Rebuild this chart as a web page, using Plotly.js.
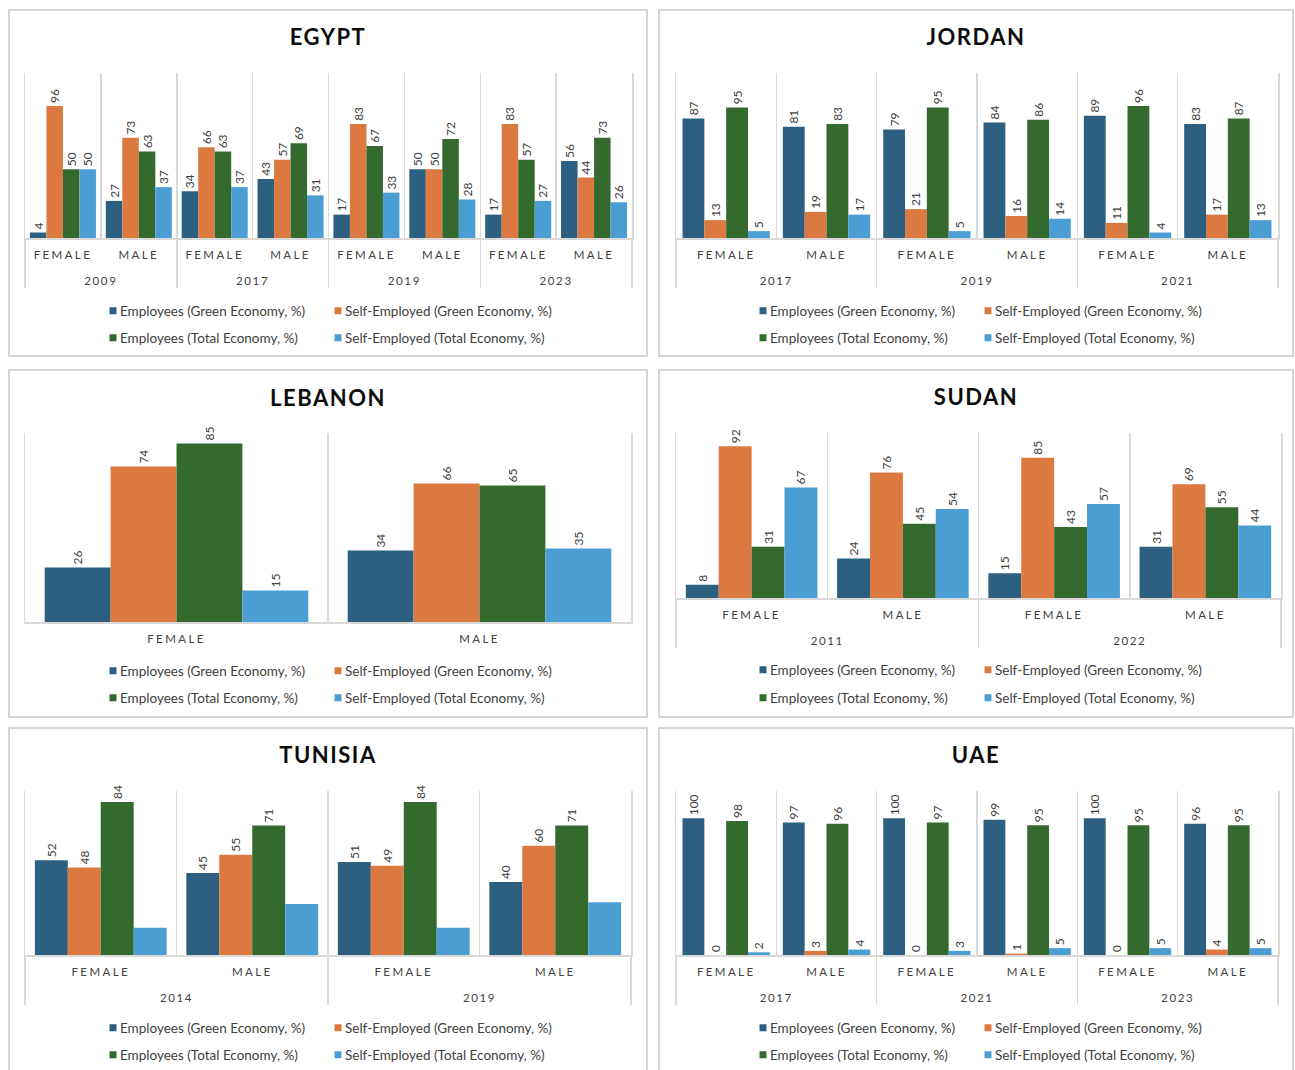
<!DOCTYPE html>
<html>
<head>
<meta charset="utf-8">
<script src="https://cdn.plot.ly/plotly-3.0.1.min.js"></script>
<style>
  body { margin: 0; background: #ffffff; width: 1295px; height: 1070px; overflow: hidden; position: relative; }
  .panel { position: absolute; box-sizing: border-box; border: 2px solid #d4d4d4; background: #ffffff; }
  /* spaced capitals for the category rows, pushed down from the baseline */
  g.xtick { transform: translateY(6px); }
  g.xtick2 { transform: translateY(17px); }
  g.xtick text { letter-spacing: 2.4px; }
  g.xtick2 text { letter-spacing: 1.6px; }
  .gtitle { letter-spacing: 1.5px; }
  /* small square swatches sitting close to their labels (both legend rows) */
  .legendpoints path { transform: translate(33px, 0) scale(0.58); }
</style>
</head>
<body>
<div id="egypt" class="panel"></div>
<div id="jordan" class="panel"></div>
<div id="lebanon" class="panel"></div>
<div id="sudan" class="panel"></div>
<div id="tunisia" class="panel"></div>
<div id="uae" class="panel"></div>
<script>
// Series names and colours
const seriesNames = [
  'Employees (Green Economy, %)',
  'Self-Employed (Green Economy, %)',
  'Employees (Total Economy, %)',
  'Self-Employed (Total Economy, %)'
];
const seriesColors = ['#2d5f80', '#db7941', '#346a2e', '#4a9ed3'];
const genders = ['FEMALE', 'MALE'];

// Egypt
const egyptYears = ['2009', '2017', '2019', '2023'];
const egyptEmpGreen   = [4, 27, 34, 43, 17, 50, 17, 56];
const egyptSelfGreen  = [96, 73, 66, 57, 83, 50, 83, 44];
const egyptEmpTotal   = [50, 63, 63, 69, 67, 72, 57, 73];
const egyptSelfTotal  = [50, 37, 37, 31, 33, 28, 27, 26];

// Jordan
const jordanYears = ['2017', '2019', '2021'];
const jordanEmpGreen  = [87, 81, 79, 84, 89, 83];
const jordanSelfGreen = [13, 19, 21, 16, 11, 17];
const jordanEmpTotal  = [95, 83, 95, 86, 96, 87];
const jordanSelfTotal = [5, 17, 5, 14, 4, 13];

// Lebanon (single period)
const lebanonEmpGreen  = [26, 34];
const lebanonSelfGreen = [74, 66];
const lebanonEmpTotal  = [85, 65];
const lebanonSelfTotal = [15, 35];

// Sudan
const sudanYears = ['2011', '2022'];
const sudanEmpGreen  = [8, 24, 15, 31];
const sudanSelfGreen = [92, 76, 85, 69];
const sudanEmpTotal  = [31, 45, 43, 55];
const sudanSelfTotal = [67, 54, 57, 44];

// Tunisia (total-economy self-employment shown without labels)
const tunisiaYears = ['2014', '2019'];
const tunisiaEmpGreen  = [52, 45, 51, 40];
const tunisiaSelfGreen = [48, 55, 49, 60];
const tunisiaEmpTotal  = [84, 71, 84, 71];
const tunisiaSelfTotal = [15, 28, 15, 29];

// UAE
const uaeYears = ['2017', '2021', '2023'];
const uaeEmpGreen  = [100, 97, 100, 99, 100, 96];
const uaeSelfGreen = [0, 3, 0, 1, 0, 4];
const uaeEmpTotal  = [98, 96, 97, 95, 95, 95];
const uaeSelfTotal = [2, 4, 3, 5, 5, 5];

const FONT = 'Lato, "Open Sans", sans-serif';
const TEXT_COLOR = '#404040';
const LINE_COLOR = '#d9d9d9';
const BORDER = 2;

// Panel frames: outer box and inner plot box in page pixels
const panels = [
  { id: 'egypt', title: 'EGYPT', years: egyptYears,
    series: [egyptEmpGreen, egyptSelfGreen, egyptEmpTotal, egyptSelfTotal], labelled: [true, true, true, true],
    box: [8, 9, 640, 348], plot: [25, 632, 73, 238], titleY: 37.5, legendY: [311, 338], legendX: 80, yMax: 120 },
  { id: 'jordan', title: 'JORDAN', years: jordanYears,
    series: [jordanEmpGreen, jordanSelfGreen, jordanEmpTotal, jordanSelfTotal], labelled: [true, true, true, true],
    box: [658, 9, 636, 348], plot: [676, 1278, 73, 238], titleY: 37.5, legendY: [311, 338], legendX: 730, yMax: 120 },
  { id: 'lebanon', title: 'LEBANON', years: null,
    series: [lebanonEmpGreen, lebanonSelfGreen, lebanonEmpTotal, lebanonSelfTotal], labelled: [true, true, true, true],
    box: [8, 369, 640, 349], plot: [25, 631, 433, 622], titleY: 398, legendY: [671, 698], legendX: 80, yMax: 90 },
  { id: 'sudan', title: 'SUDAN', years: sudanYears,
    series: [sudanEmpGreen, sudanSelfGreen, sudanEmpTotal, sudanSelfTotal], labelled: [true, true, true, true],
    box: [658, 369, 636, 349], plot: [676, 1281, 433, 598], titleY: 397, legendY: [670, 698], legendX: 730, yMax: 100 },
  { id: 'tunisia', title: 'TUNISIA', years: tunisiaYears,
    series: [tunisiaEmpGreen, tunisiaSelfGreen, tunisiaEmpTotal, tunisiaSelfTotal], labelled: [true, true, true, false],
    box: [8, 727, 640, 360], plot: [25, 631, 791, 955], titleY: 755, legendY: [1028, 1055], legendX: 80, yMax: 90 },
  { id: 'uae', title: 'UAE', years: uaeYears,
    series: [uaeEmpGreen, uaeSelfGreen, uaeEmpTotal, uaeSelfTotal], labelled: [true, true, true, true],
    box: [658, 727, 636, 360], plot: [676, 1278, 791, 955], titleY: 755, legendY: [1028, 1055], legendX: 730, yMax: 120 }
];

function categoryAxis(years) {
  if (!years) return genders.slice();
  const outer = [], inner = [];
  years.forEach(y => genders.forEach(g => { outer.push(y); inner.push(g); }));
  return [outer, inner];
}

panels.forEach(p => {
  const [bx, by, bw, bh] = p.box;
  const el = document.getElementById(p.id);
  el.style.left = bx + 'px';
  el.style.top = by + 'px';
  el.style.width = bw + 'px';
  el.style.height = bh + 'px';

  const cw = bw - 2 * BORDER, ch = bh - 2 * BORDER;
  const cx = bx + BORDER, cy = by + BORDER;
  const [pl, pr, pt, pb] = p.plot;
  const margin = { l: pl - cx, r: cx + cw - pr, t: pt - cy, b: cy + ch - pb, pad: 0 };

  const x = categoryAxis(p.years);
  const traces = p.series.map((vals, i) => ({
    type: 'bar',
    name: seriesNames[i],
    x: x,
    y: vals,
    marker: { color: seriesColors[i], line: { width: 0 } },
    text: p.labelled[i] ? vals.map(String) : null,
    textposition: p.labelled[i] ? 'outside' : 'none',
    textangle: -90,
    textfont: { family: FONT, size: 12, color: TEXT_COLOR },
    constraintext: 'none',
    cliponaxis: false,
    hoverinfo: 'skip',
    legend: i < 2 ? 'legend' : 'legend2',
    legendwidth: i % 2 === 0 ? 180 : 240
  }));

  const legendBase = {
    orientation: 'h',
    xref: 'container', yref: 'container',
    x: (p.legendX - cx) / cw,
    xanchor: 'left', yanchor: 'middle',
    bgcolor: 'rgba(0,0,0,0)',
    font: { family: FONT, size: 13.5, color: TEXT_COLOR },
    itemclick: false, itemdoubleclick: false
  };

  const layout = {
    width: cw, height: ch,
    margin: margin,
    paper_bgcolor: '#ffffff', plot_bgcolor: '#ffffff',
    font: { family: FONT, color: TEXT_COLOR },
    title: {
      text: p.title,
      font: { family: FONT, size: 22, color: '#0d0d0d', weight: 700 },
      xref: 'container', x: 0.5, xanchor: 'center',
      yref: 'container', y: 1 - (p.titleY - cy) / ch, yanchor: 'middle'
    },
    barmode: 'group', bargap: 0.13, bargroupgap: 0,
    xaxis: {
      type: p.years ? 'multicategory' : 'category',
      tickson: 'boundaries',
      showgrid: true, gridcolor: LINE_COLOR, gridwidth: 1.5,
      showline: true, linecolor: LINE_COLOR, linewidth: 1.5,
      ticks: '',
      showdividers: true, dividercolor: LINE_COLOR, dividerwidth: 1.5,
      tickfont: { family: FONT, size: 11.5, color: TEXT_COLOR },
      fixedrange: true, zeroline: false
    },
    yaxis: {
      range: [0, p.yMax], fixedrange: true,
      showticklabels: false, ticks: '', showgrid: false, zeroline: false,
      showline: true, mirror: true, linecolor: LINE_COLOR, linewidth: 1.5
    },
    legend: Object.assign({}, legendBase, { y: 1 - (p.legendY[0] - cy) / ch }),
    legend2: Object.assign({}, legendBase, { y: 1 - (p.legendY[1] - cy) / ch }),
    showlegend: true
  };

  Plotly.newPlot(el, traces, layout, { displayModeBar: false, staticPlot: true });
});
</script>
</body>
</html>
